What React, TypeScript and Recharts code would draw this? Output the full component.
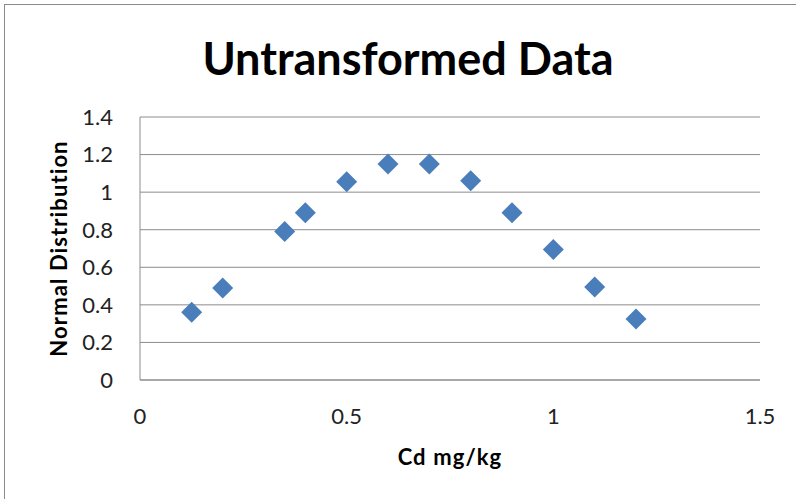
import React from 'react';
import { ScatterChart, Scatter, XAxis, YAxis, CartesianGrid } from 'recharts';

// Cd concentration (mg/kg) and the normal distribution value
const cdValues = [0.125, 0.2, 0.35, 0.4, 0.5, 0.6, 0.7, 0.8, 0.9, 1.0, 1.1, 1.2];
const normalValues = [0.36, 0.49, 0.79, 0.89, 1.055, 1.15, 1.15, 1.06, 0.89, 0.695, 0.495, 0.325];
const xTicks = [0, 0.5, 1, 1.5];
const yTicks = [0, 0.2, 0.4, 0.6, 0.8, 1, 1.2, 1.4];

const data = cdValues.map((x, i) => ({ x, y: normalValues[i] }));

const FONT = 'Lato, "Open Sans", sans-serif';
const MARKER = '#4A7EBB';
const GRID = '#8C8C8C';

const Diamond = (props: any) => {
  const { cx, cy } = props;
  const r = 10.5;
  return (
    <polygon
      points={`${cx},${cy - r} ${cx + r},${cy} ${cx},${cy + r} ${cx - r},${cy}`}
      fill={MARKER}
    />
  );
};

const App = () => {
  return (
    <div style={{ position: 'fixed', left: 0, top: 0, width: 796, height: 499, background: '#fff' }}>
      {/* outer frame, only top/left edges show in the source */}
      <div
        style={{
          position: 'absolute',
          left: 4,
          top: 4,
          width: 800,
          height: 500,
          borderLeft: '1px solid #8a8a8a',
          borderTop: '1px solid #8a8a8a',
        }}
      />
      <div
        style={{
          position: 'absolute',
          left: 10,
          top: 32,
          width: 796,
          textAlign: 'center',
          fontFamily: FONT,
          fontWeight: 700,
          fontSize: 45,
          lineHeight: '52px',
          color: '#000',
        }}
      >
        Untransformed Data
      </div>
      <ScatterChart
        width={796}
        height={499}
        margin={{ top: 117, right: 36, bottom: 0, left: 0 }}
        style={{ position: 'absolute', left: 0, top: 0 }}
      >
        <CartesianGrid vertical={false} stroke={GRID} strokeWidth={1} />
        <XAxis
          type="number"
          dataKey="x"
          domain={[0, 1.5]}
          ticks={xTicks}
          height={119}
          tickLine={false}
          tickMargin={22}
          axisLine={{ stroke: GRID }}
          tick={{ fontFamily: FONT, fontSize: 22, fill: '#222' }}
          label={{
            content: ({ viewBox }: any) => (
              <text
                x={viewBox.x + viewBox.width / 2}
                y={viewBox.y + 85}
                textAnchor="middle"
                fontFamily={FONT}
                fontWeight={700}
                fontSize={22}
                letterSpacing={1.1}
                fill="#000"
              >
                Cd mg/kg
              </text>
            ),
          }}
        />
        <YAxis
          type="number"
          dataKey="y"
          domain={[0, 1.4]}
          ticks={yTicks}
          width={140}
          tickLine={false}
          tickMargin={21}
          axisLine={{ stroke: GRID }}
          tick={{ fontFamily: FONT, fontSize: 22, fill: '#222' }}
          label={{
            content: ({ viewBox }: any) => {
              const x = viewBox.x + 67;
              const y = viewBox.y + viewBox.height / 2;
              return (
                <text
                  x={x}
                  y={y}
                  transform={`rotate(-90, ${x}, ${y})`}
                  textAnchor="middle"
                  fontFamily={FONT}
                  fontWeight={700}
                  fontSize={22}
                  letterSpacing={1.1}
                  fill="#000"
                >
                  Normal Distribution
                </text>
              );
            },
          }}
        />
        <Scatter data={data} shape={Diamond} isAnimationActive={false} />
      </ScatterChart>
    </div>
  );
};

export default App;
